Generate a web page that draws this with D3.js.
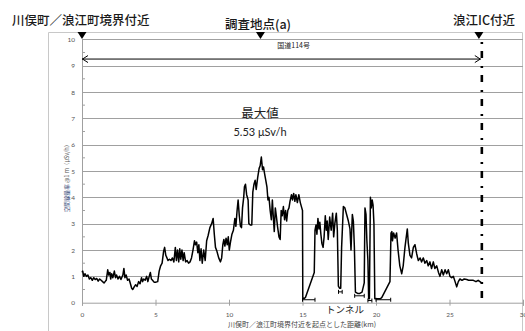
<!DOCTYPE html>
<html>
<head>
<meta charset="utf-8">
<script src="https://cdn.jsdelivr.net/npm/d3@7"></script>
<style>
  html, body { margin: 0; padding: 0; background: #fff; }
  svg { display: block; }
</style>
</head>
<body>
<svg id="chart" width="525" height="331"></svg>
<script>
// Air dose rate along National Route 114 (km from the Kawamata/Namie boundary, µSv/h)
const distanceKm = [
  0.0,0.05,0.12,0.2,0.3,0.4,0.5,0.6,0.7,0.8,0.9,1.0,1.1,1.2,1.3,1.4,1.5,1.6,1.65,1.75,1.82,1.9,1.95,2.02,2.1,2.2,2.28,2.35,2.45,2.55,2.65,2.78,2.85,2.92,3.0,3.1,3.2,3.28,3.38,3.45,3.55,3.65,3.75,3.85,3.95,4.05,4.12,4.2,4.3,4.4,4.48,4.55,4.65,4.72,4.8,4.9,5.0,5.15,5.25,5.35,5.45,5.55,5.62,5.7,5.78,5.85,5.95,6.05,6.15,6.25,6.35,6.42,6.5,6.58,6.65,6.72,6.8,6.88,6.95,7.05,7.15,7.25,7.35,7.45,7.55,7.65,7.72,7.8,7.88,7.95,8.02,8.1,8.18,8.28,8.38,8.48,8.58,8.7,8.82,8.92,9.0,9.08,9.18,9.3,9.42,9.5,9.58,9.65,9.72,9.8,9.88,9.95,10.02,10.1,10.2,10.3,10.4,10.47,10.55,10.62,10.7,10.78,10.85,10.92,11.0,11.05,11.12,11.2,11.3,11.35,11.45,11.55,11.62,11.7,11.78,11.85,11.95,12.05,12.12,12.2,12.28,12.35,12.42,12.5,12.58,12.65,12.72,12.8,12.88,12.95,13.02,13.08,13.15,13.22,13.3,13.4,13.48,13.55,13.62,13.7,13.78,13.85,13.92,14.0,14.08,14.15,14.25,14.32,14.4,14.48,14.55,14.65,14.75,14.85,14.95,15.0,15.02,15.1,15.2,15.8,15.85,15.92,15.98,16.05,16.12,16.18,16.25,16.32,16.4,16.47,16.55,16.62,16.68,16.75,16.85,16.95,17.05,17.12,17.2,17.3,17.37,17.44,17.52,17.6,17.66,17.78,17.88,18.0,18.12,18.23,18.3,18.39,18.46,18.53,18.6,18.75,18.9,19.05,19.2,19.25,19.32,19.38,19.45,19.5,19.55,19.62,19.68,19.74,19.8,19.86,19.92,20.1,20.3,20.4,20.95,21.02,21.08,21.12,21.2,21.3,21.4,21.5,21.62,21.75,21.85,21.97,22.13,22.2,22.31,22.42,22.54,22.65,22.77,22.88,23.0,23.1,23.22,23.33,23.45,23.55,23.67,23.78,23.9,24.0,24.13,24.25,24.35,24.47,24.58,24.7,24.81,24.92,25.03,25.15,25.26,25.38,25.49,25.6,25.71,25.85,26.0,26.17,26.3,26.45,26.62,26.8,26.95,27.07,27.18
];
const doseRate = [
  1.15,1.2,1.0,1.1,1.0,1.05,0.9,0.95,0.85,0.95,0.88,0.92,0.82,0.9,0.85,0.8,0.75,0.82,0.85,1.25,1.05,1.15,0.9,1.1,0.95,1.2,0.95,1.05,0.9,1.0,0.88,1.05,1.3,0.95,1.05,0.85,0.9,0.75,0.55,0.5,0.6,0.68,0.62,0.8,0.72,0.95,0.8,0.9,0.85,1.0,0.8,0.95,1.15,0.9,0.85,0.78,0.78,0.8,1.2,1.4,1.5,1.95,2.1,1.8,1.7,1.6,1.65,1.6,1.7,1.55,2.1,1.6,2.0,1.55,2.05,1.65,2.0,1.6,1.9,1.55,1.6,1.5,1.55,1.7,2.0,2.35,2.2,2.3,1.9,2.2,1.6,2.05,1.5,2.0,1.6,2.35,2.55,2.85,3.0,3.2,2.6,2.1,1.95,1.7,1.55,1.7,2.2,2.4,2.15,2.45,2.2,2.5,2.0,2.3,2.6,2.75,3.2,2.9,3.5,3.9,3.3,2.9,2.85,3.6,4.0,4.4,4.5,4.1,3.9,3.0,2.95,2.95,4.2,4.5,4.65,4.3,4.75,5.1,5.2,5.53,5.05,5.15,4.9,4.65,4.4,3.9,4.0,3.5,3.15,3.9,3.2,2.7,3.6,3.3,2.9,2.5,2.4,3.5,3.3,3.65,3.15,3.5,3.1,3.5,3.6,3.85,4.1,3.9,4.15,3.85,4.1,3.8,4.1,3.8,3.6,3.5,0.2,0.15,0.2,1.15,2.75,2.95,2.6,3.2,2.8,3.05,2.6,2.25,2.1,2.5,3.3,2.75,3.1,2.4,3.25,2.75,3.4,2.5,3.0,3.4,2.75,0.63,0.55,0.55,2.1,3.65,3.6,3.35,3.1,2.8,2.0,3.35,3.1,2.1,0.4,0.35,0.35,0.4,0.75,3.6,3.35,2.35,1.6,0.15,0.15,4.0,3.6,3.9,3.7,3.0,0.15,0.15,0.15,0.2,0.8,2.64,2.7,2.35,2.65,2.45,2.65,2.0,1.4,1.1,1.4,2.1,2.8,2.25,1.8,1.7,2.1,2.2,1.85,1.6,1.7,1.55,1.7,1.5,1.6,1.4,1.55,1.3,1.55,1.3,1.4,1.15,1.0,1.25,1.05,1.25,1.1,1.25,1.0,0.95,1.0,0.8,0.6,0.8,0.9,0.85,0.9,0.88,0.85,0.85,0.85,0.8,0.85,0.8,0.75
];

// Tunnel sections marked under the profile: start km, end km, dose level of the mark
const tunnelStart = [15.0, 17.45, 18.55, 19.45, 20.0];
const tunnelEnd   = [15.85, 17.7, 19.2, 19.72, 21.0];
const tunnelLevel = [0.15, 0.45, 0.3, 0.12, 0.15];

// Reference points along the route (km)
const placeKm = [0, 12.14, 27.0];
const placeNames = ["川俣町／浪江町境界付近", "調査地点(a)", "浪江IC付近"];
const routeEndKm = 27.2;       // Namie IC
const routeLevel = 9.25;
const routeName = "国道114号";
const maxLabel = ["最大値", "5.53 μSv/h"];
const maxValue = 5.53;

const xTicks = [0, 5, 10, 15, 20, 25, 30];
const yTicks = [0, 1, 2, 3, 4, 5, 6, 7, 8, 9, 10];
const yMinorTicks = [0.5, 1.5, 2.5, 3.5, 4.5, 5.5, 6.5, 7.5, 8.5, 9.5];

const svg = d3.select("#chart");
const x = d3.scaleLinear().domain([0, 30]).range([82, 523]);
const y = d3.scaleLinear().domain([0, 10]).range([302.7, 39.3]);

const jp = "'Noto Sans CJK JP', 'Noto Sans', sans-serif";
const num = "Lato, 'Noto Sans', sans-serif";

// outer frame
svg.append("path")
  .attr("d", "M48.5,340 V32.5 H522.5 V340")
  .attr("fill", "none").attr("stroke", "#c8c8c8").attr("stroke-width", 1);

// horizontal gridlines
svg.append("g").selectAll("line").data(yTicks.filter(d => d > 0)).join("line")
  .attr("x1", x(0)).attr("x2", x(30))
  .attr("y1", d => Math.round(y(d)) + 0.5).attr("y2", d => Math.round(y(d)) + 0.5)
  .attr("stroke", "#a0a0a0").attr("stroke-width", 1);

// y axis
const yAxis = d3.axisLeft(y).tickValues(yTicks).tickSize(0).tickPadding(7);
const gy = svg.append("g").attr("transform", `translate(${x(0)},0)`).call(yAxis);
gy.select(".domain").attr("stroke", "#a0a0a0");
gy.selectAll("text").attr("font-family", num).attr("font-size", 6.5).attr("fill", "#555");
svg.append("g").selectAll("line").data(yMinorTicks).join("line")
  .attr("x1", x(0)).attr("x2", x(0) + 3)
  .attr("y1", d => y(d)).attr("y2", d => y(d))
  .attr("stroke", "#a0a0a0");

// x axis
const xAxis = d3.axisBottom(x).tickValues(xTicks).tickSize(3).tickPadding(7);
const gx = svg.append("g").attr("transform", `translate(0,${y(0)})`).call(xAxis);
gx.select(".domain").attr("stroke", "#a0a0a0");
gx.selectAll(".tick line").attr("stroke", "#a0a0a0").attr("y1", -3);
gx.selectAll("text").attr("font-family", num).attr("font-size", 6.5).attr("fill", "#555");

// axis titles
const yt = svg.append("text")
  .attr("transform", `translate(${69},${177}) rotate(-90)`)
  .attr("text-anchor", "middle").attr("font-family", jp).attr("font-size", 5.6);
yt.append("tspan").attr("fill", "#2b3d73").text("空間線量率");
yt.append("tspan").attr("fill", "#555").text(" @1 m（μSv/h）");

svg.append("text").attr("x", 302).attr("y", 326.5).attr("text-anchor", "middle")
  .attr("font-family", jp).attr("font-size", 7).attr("fill", "#444")
  .text("川俣町／浪江町境界付近を起点とした距離(km)");

// dose profile
const pts = distanceKm.map((d, i) => [d, doseRate[i]]);
svg.append("path").datum(pts)
  .attr("fill", "none").attr("stroke", "#000").attr("stroke-width", 1.5)
  .attr("stroke-linejoin", "round")
  .attr("d", d3.line().x(d => x(d[0])).y(d => y(d[1])));

// tunnel marks
const tun = svg.append("g").attr("stroke", "#000").attr("stroke-width", 1);
tunnelStart.forEach((s, i) => {
  const ty = y(tunnelLevel[i]) + 1;
  tun.append("line").attr("x1", x(s)).attr("x2", x(tunnelEnd[i])).attr("y1", ty).attr("y2", ty);
  tun.append("line").attr("x1", x(s)).attr("x2", x(s)).attr("y1", ty - 2).attr("y2", ty + 2);
  tun.append("line").attr("x1", x(tunnelEnd[i])).attr("x2", x(tunnelEnd[i])).attr("y1", ty - 2).attr("y2", ty + 2);
});
svg.append("text").attr("x", 345).attr("y", 312.5).attr("text-anchor", "middle")
  .attr("font-family", jp).attr("font-size", 9.5).attr("fill", "#222").text("トンネル");

// Namie IC dash-dot line
svg.append("line")
  .attr("x1", x(routeEndKm)).attr("x2", x(routeEndKm))
  .attr("y1", 42).attr("y2", 301)
  .attr("stroke", "#000").attr("stroke-width", 2.6)
  .attr("stroke-dasharray", "2,7,7,8");

// route extent arrow
const ay = y(routeLevel);
const ar = svg.append("g").attr("stroke", "#000").attr("stroke-width", 1).attr("fill", "none");
ar.append("line").attr("x1", x(0)).attr("x2", x(routeEndKm) - 1).attr("y1", ay).attr("y2", ay);
ar.append("path").attr("d", `M${x(0) + 6},${ay - 3.5} L${x(0) + 0.5},${ay} L${x(0) + 6},${ay + 3.5}`);
ar.append("path").attr("d", `M${x(routeEndKm) - 7},${ay - 3.5} L${x(routeEndKm) - 1.5},${ay} L${x(routeEndKm) - 7},${ay + 3.5}`);
svg.append("text").attr("x", x(14.4)).attr("y", ay - 11).attr("text-anchor", "middle")
  .attr("font-family", jp).attr("font-size", 7).attr("fill", "#222").text(routeName);

// place markers and names
svg.append("g").selectAll("path").data(placeKm).join("path")
  .attr("d", d => `M${x(d) - 4.5},32 L${x(d) + 4.5},32 L${x(d)},39 Z`)
  .attr("fill", "#000");
const nameX = [12, 258, 515];
const nameY = [24.5, 28.5, 24.5];
const nameAnchor = ["start", "middle", "end"];
svg.append("g").selectAll("text").data(placeNames).join("text")
  .attr("x", (d, i) => nameX[i]).attr("y", (d, i) => nameY[i])
  .attr("text-anchor", (d, i) => nameAnchor[i])
  .attr("font-family", jp).attr("font-size", 12.5).attr("font-weight", 500)
  .attr("fill", "#1a1a1a").text(d => d);

// maximum annotation
svg.append("text").attr("x", 260).attr("y", 117.5).attr("text-anchor", "middle")
  .attr("font-family", jp).attr("font-size", 12.5).attr("fill", "#222").text(maxLabel[0]);
svg.append("text").attr("x", 260).attr("y", 136).attr("text-anchor", "middle")
  .attr("font-family", num).attr("font-size", 11).attr("fill", "#222")
  .text(d3.format(".2f")(maxValue) + " μSv/h");
</script>
</body>
</html>
